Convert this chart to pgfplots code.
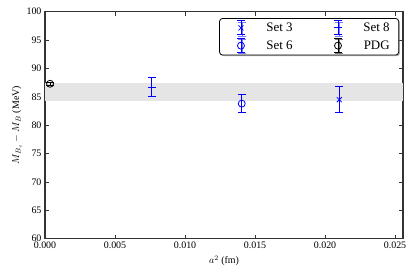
\documentclass[border=0pt]{standalone}
\usepackage{pgfplots}
\pgfplotsset{compat=1.18}
\usepackage{fontspec}
\setmainfont{Liberation Serif}
\usetikzlibrary{shadows}
\definecolor{band}{gray}{0.9}
\pgfdeclareplotmark{hbar}{%
  \pgfpathmoveto{\pgfqpoint{-\pgfplotmarksize}{0pt}}%
  \pgfpathlineto{\pgfqpoint{\pgfplotmarksize}{0pt}}%
  \pgfusepathqstroke}
\pgfplotsset{
  errleg/.style={legend image code/.code={
    \draw[line width=0.8pt,solid] (0bp,-7bp) -- (0bp,7bp) (-4bp,-7bp) -- (4bp,-7bp) (-4bp,7bp) -- (4bp,7bp);
    \draw[only marks] plot coordinates {(0bp,0bp)};
    \path (-17bp,0bp) (4bp,0bp);
  }}
}
\begin{document}
\begin{tikzpicture}
\begin{axis}[
  scale only axis,
  width=358bp, height=227bp,
  xmin=0, xmax=0.02557, ymin=60, ymax=100,
  xtick={0,0.005,0.01,0.015,0.02,0.025},
  ytick={60,65,...,100},
  xticklabel style={/pgf/number format/fixed, /pgf/number format/fixed zerofill, /pgf/number format/precision=3},
  scaled x ticks=false,
  /pgf/number format/assume math mode=true,
  tick align=inside, tick pos=both, major tick length=4bp,
  ticklabel style={font=\fontsize{10}{12}\selectfont},
  axis line style={line width=1.1pt, black!80},
  every tick/.style={black!80, line width=0.6pt},
  xlabel={$a^2$ (fm)}, ylabel={$M_{B_s}-M_B$ (MeV)},
  label style={font=\fontsize{10}{12}\selectfont},
  ylabel style={yshift=-2bp},
  legend columns=2,
  legend style={at={(0.989,0.972)}, anchor=north east, rounded corners=3bp, draw=black, line width=0.8pt, drop shadow={shadow xshift=1.2bp, shadow yshift=-1.2bp, fill=black!60}, fill=white, font=\fontsize{13}{15}\selectfont, row sep=3bp, inner xsep=4bp, inner ysep=2bp},
  legend cell align=right,
  error bars/error bar style={line width=0.8pt},
  error bars/error mark options={line width=0.8pt, mark size=4bp, rotate=90},
]
\addplot[fill=band, draw=none, forget plot] coordinates {(0,84.3) (0.02557,84.3) (0.02557,87.5) (0,87.5)} -- cycle;
% Set 8 error bar (line with caps at its ends)
\addplot[color=blue, line width=0.8pt, mark=hbar, mark size=4bp, mark options={line width=0.8pt, solid}, forget plot]
  coordinates {(0.00762,85.0) (0.00762,88.4)};
% Set 3
\addplot[color=blue, only marks, mark=x, mark size=3.5bp, mark options={line width=0.8pt}, errleg,
  error bars/.cd, y dir=both, y explicit] coordinates {(0.02102,84.5) +- (0,2.3)};
% Set 8 (centre)
\addplot[color=blue, only marks, mark=hbar, mark size=4bp, mark options={line width=0.8pt}, errleg]
  coordinates {(0.00762,86.7)};
% Set 6
\addplot[color=blue, only marks, mark=o, mark size=3.5bp, mark options={line width=0.8pt}, errleg,
  error bars/.cd, y dir=both, y explicit] coordinates {(0.01405,83.8) +- (0,1.55)};
% PDG
\addplot[color=black, only marks, mark=o, mark size=3.5bp, mark options={line width=0.8pt}, errleg,
  error bars/.cd, y dir=both, y explicit] coordinates {(0.00036,87.3) +- (0,0.3)};
\legend{\hspace*{19bp}Set 3\hspace*{26bp},\hspace*{19bp}Set 8\hspace*{3bp},\hspace*{19bp}Set 6\hspace*{26bp},\hspace*{19bp}PDG\hspace*{3bp}}
\end{axis}
\path (current axis.south west) ++(-45bp,-37bp) (current axis.north east) ++(13bp,11.7bp);
\end{tikzpicture}
\end{document}
